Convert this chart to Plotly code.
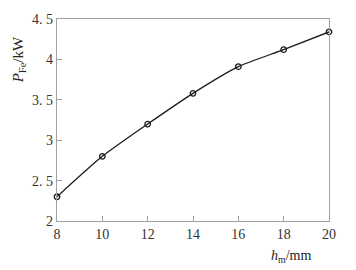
import plotly.graph_objects as go

h_m = [8, 10, 12, 14, 16, 18, 20]
p_fe = [2.3, 2.8, 3.2, 3.58, 3.91, 4.12, 4.34]
y_tickvals = [2, 2.5, 3, 3.5, 4, 4.5]
y_ticktext = ["2", "2. 5", "3", "3. 5", "4", "4. 5"]
x_tickvals = [8, 10, 12, 14, 16, 18, 20]

font = "Liberation Serif, DejaVu Serif, serif"
axcol = "#a0a0a0"

fig = go.Figure()
fig.add_trace(go.Scatter(
    x=h_m, y=p_fe, mode="lines+markers",
    line=dict(color="#1a1a1a", width=1.3, shape="spline", smoothing=0.6),
    marker=dict(symbol="circle-open", size=5.5, color="#1a1a1a", line=dict(width=1.3)),
    showlegend=False, cliponaxis=False,
))

fig.update_layout(
    width=356, height=270,
    margin=dict(l=57, r=27, t=14, b=49),
    paper_bgcolor="white", plot_bgcolor="white",
    font=dict(family=font, size=14, color="#333"),
    xaxis=dict(range=[8, 20], tickvals=x_tickvals, ticks="inside", ticklen=5,
               tickcolor=axcol, showline=True, linecolor=axcol, linewidth=1.2,
               mirror=True, showgrid=False, zeroline=False,
               tickfont=dict(family=font, size=14, color="#333")),
    yaxis=dict(range=[2, 4.5], tickvals=y_tickvals, ticktext=y_ticktext,
               ticks="inside", ticklen=5, tickcolor=axcol, showline=True,
               linecolor=axcol, linewidth=1.2, mirror=True, showgrid=False,
               zeroline=False, tickfont=dict(family=font, size=14, color="#333")),
    annotations=[
        dict(text="<i>h</i><sub>m</sub>/mm", xref="paper", yref="paper",
             x=0.942, y=-0.125, xanchor="right", yanchor="top", showarrow=False,
             font=dict(family=font, size=14, color="#222")),
        dict(text="<i>P</i><sub>Fe</sub>/kW", xref="paper", yref="paper",
             x=-0.14, y=0.8, xanchor="center", yanchor="middle", textangle=-90,
             showarrow=False, font=dict(family=font, size=15, color="#222")),
    ],
)

fig.write_html("out.html")
